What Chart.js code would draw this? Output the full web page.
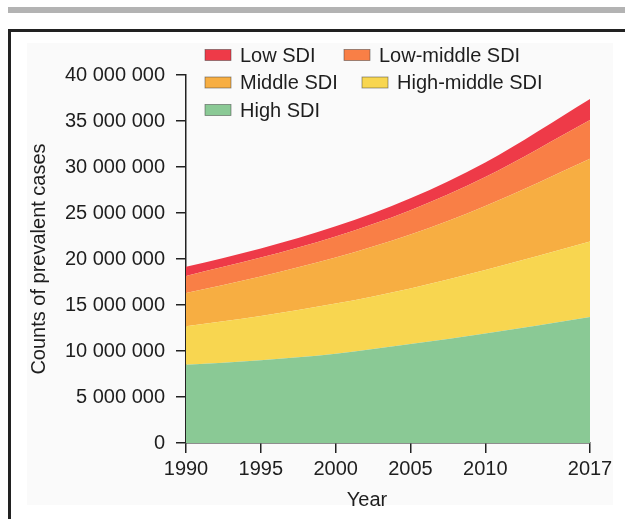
<!DOCTYPE html>
<html>
<head>
<meta charset="utf-8">
<script src="https://cdn.jsdelivr.net/npm/chart.js@4/dist/chart.umd.min.js"></script>
<style>
  html, body { margin: 0; padding: 0; background: #fff; }
  #page { position: relative; width: 625px; height: 519px; overflow: hidden; font-family: "Liberation Sans", Arial, sans-serif; }
  #topbar { position: absolute; left: 8px; top: 7px; width: 640px; height: 6px; background: #b3b3b3; }
  #frame { position: absolute; left: 8px; top: 29px; width: 700px; height: 600px; border-left: 3px solid #222; border-top: 3px solid #222; }
  #panel { position: absolute; left: 27px; top: 43px; width: 586px; height: 462px; background: #fafafa; }
  #chart { position: absolute; left: 0; top: 0; }
</style>
</head>
<body>
<div id="page">
  <div id="topbar"></div>
  <div id="frame"></div>
  <div id="panel"></div>
  <canvas id="chart" width="625" height="519"></canvas>
</div>
<script>
// data, counts in cases
const years = [1990, 1995, 2000, 2005, 2010, 2017]
const xTickYears = [1990, 1995, 2000, 2005, 2010, 2017]
const highSDI       = [8500000, 9000000, 9700000, 10750000, 11900000, 13700000]
const highMiddleSDI = [4200000, 4800000, 5450000, 6050000, 6900000, 8200000]
const middleSDI     = [3600000, 4300000, 5000000, 5850000, 6950000, 9000000]
const lowMiddleSDI  = [1850000, 2050000, 2300000, 2650000, 3150000, 4200000]
const lowSDI        = [1000000, 1000000, 1100000, 1300000, 1600000, 2300000]
const yMax = 40000000
const yStep = 5000000

const FONT = '"Liberation Sans", Arial, sans-serif'

function points(values){
    return years.map((y, i) => ({x: y, y: values[i]}))
}
function area(label, values, color, fill){
    return {
        label: label,
        data: points(values),
        backgroundColor: color,
        borderColor: color,
        borderWidth: 0,
        pointRadius: 0,
        fill: fill,
        cubicInterpolationMode: 'monotone',
    }
}

// legend drawn at fixed spots, labels/colours come from the datasets
const legendSpots = [
    {box: 205, text: 240, y: 55},
    {box: 344, text: 379, y: 55},
    {box: 205, text: 240, y: 82.5},
    {box: 362, text: 397, y: 82.5},
    {box: 205, text: 240, y: 110},
]
const sdiLegend = {
    id: 'sdiLegend',
    afterDraw(chart){
        const ctx = chart.ctx
        const sets = chart.data.datasets.slice().reverse()
        ctx.save()
        ctx.font = '20px ' + FONT
        ctx.textBaseline = 'middle'
        ctx.textAlign = 'left'
        sets.forEach((ds, i) => {
            const s = legendSpots[i]
            ctx.fillStyle = ds.backgroundColor
            ctx.fillRect(s.box, s.y - 5.5, 26, 11)
            ctx.strokeStyle = 'rgba(60,60,60,0.6)'
            ctx.lineWidth = 0.8
            ctx.strokeRect(s.box, s.y - 5.5, 26, 11)
            ctx.fillStyle = '#1e1e1e'
            ctx.fillText(ds.label, s.text, s.y + 1)
        })
        // x axis title, sits left of the axis centre in the original
        ctx.textAlign = 'center'
        ctx.fillText('Year', 367, 500)
        ctx.restore()
    }
}

new Chart(document.getElementById('chart'), {
    type: 'line',
    data: {
        datasets: [
            area('High SDI', highSDI, 'rgb(138, 201, 149)', 'origin'),
            area('High-middle SDI', highMiddleSDI, 'rgb(248, 214, 80)', '-1'),
            area('Middle SDI', middleSDI, 'rgb(247, 174, 66)', '-1'),
            area('Low-middle SDI', lowMiddleSDI, 'rgb(249, 127, 70)', '-1'),
            area('Low SDI', lowSDI, 'rgb(238, 58, 72)', '-1'),
        ]
    },
    options: {
        responsive: false,
        animation: false,
        layout: { padding: { left: 0, right: 35, top: 75, bottom: 0 } },
        plugins: { legend: { display: false }, tooltip: { enabled: false } },
        scales: {
            x: {
                type: 'linear',
                min: 1990,
                max: 2017,
                afterBuildTicks: (scale) => { scale.ticks = xTickYears.map(v => ({value: v})) },
                afterFit: (scale) => { scale.height = 76 },
                border: { display: true, color: '#222', width: 1.5 },
                grid: { drawOnChartArea: false, drawTicks: true, tickLength: 10, color: '#222', lineWidth: 1.5 },
                ticks: {
                    color: '#1e1e1e',
                    font: { size: 20, family: FONT },
                    padding: 4,
                    maxRotation: 0,
                    callback: (v) => String(v),
                },
            },
            y: {
                stacked: true,
                min: 0,
                max: yMax,
                afterFit: (scale) => { scale.width = 186 },
                border: { display: true, color: '#222', width: 1.5 },
                grid: { drawOnChartArea: false, drawTicks: true, tickLength: 10, color: '#222', lineWidth: 1.5 },
                ticks: {
                    stepSize: yStep,
                    color: '#1e1e1e',
                    padding: 11,
                    font: { size: 20, family: FONT },
                    callback: (v) => v.toLocaleString('en-US').replace(/,/g, ' '),
                },
                title: {
                    display: true,
                    text: 'Counts of prevalent cases',
                    color: '#1e1e1e',
                    font: { size: 20, family: FONT },
                    padding: { top: 27, bottom: 0 },
                },
            },
        },
    },
    plugins: [sdiLegend],
})
</script>
</body>
</html>
